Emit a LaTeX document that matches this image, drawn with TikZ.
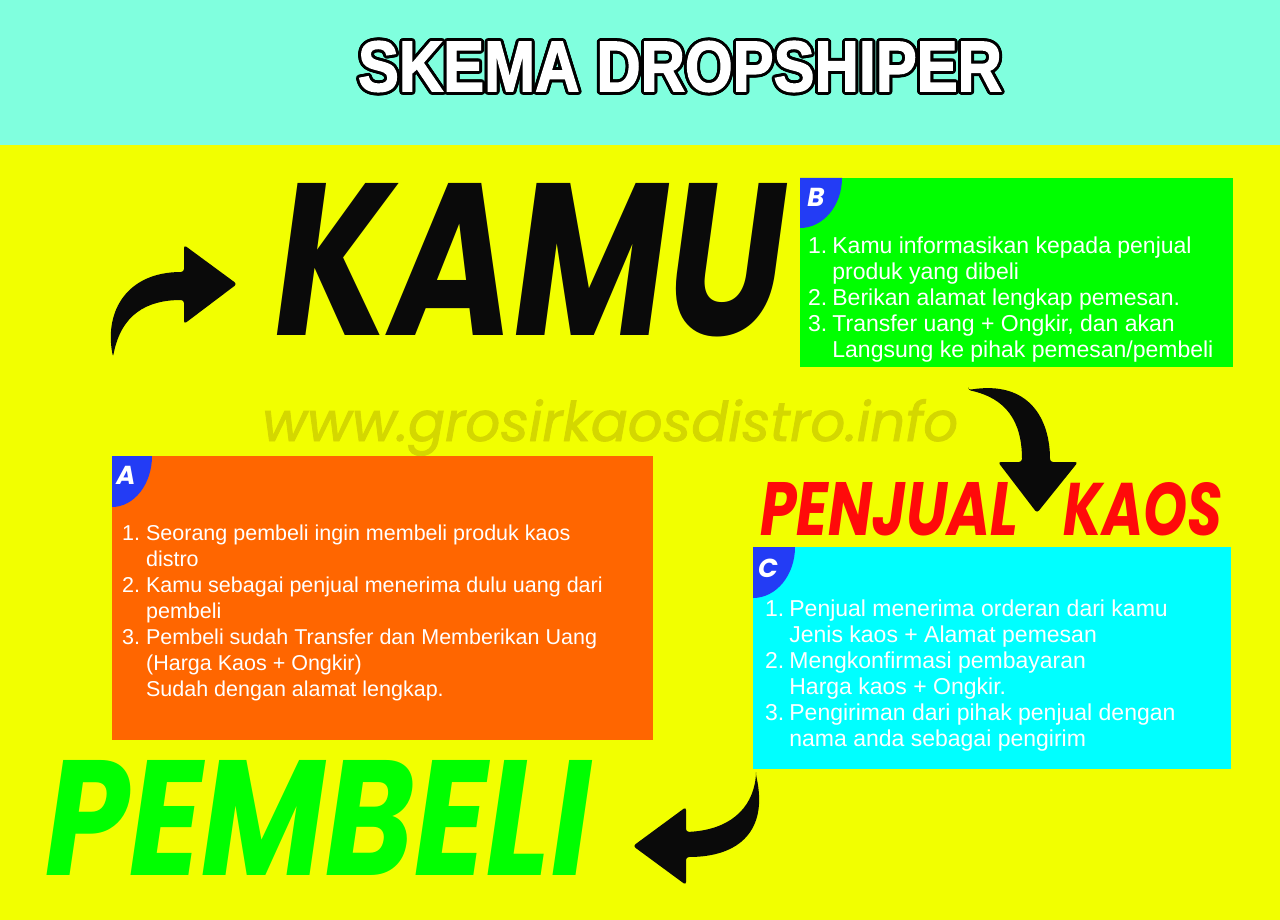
\documentclass[tikz,border=0pt]{standalone}
\usepackage{fontspec}
\setmainfont{Liberation Sans}
\newfontfamily\brushfont{Poppins}
\usepackage{contour}
\contourlength{3pt}
\usepackage{tikz}
\usetikzlibrary{calc,positioning}
\definecolor{bandcol}{RGB}{128,255,222}
\definecolor{yellowbg}{RGB}{242,255,0}
\definecolor{greenbox}{RGB}{0,255,0}
\definecolor{orangebox}{RGB}{255,102,0}
\definecolor{cyanbox}{RGB}{0,255,255}
\definecolor{badgeblue}{RGB}{35,60,245}
\definecolor{redword}{RGB}{255,10,10}
\definecolor{wmcol}{RGB}{212,215,0}
\definecolor{arrowblack}{RGB}{10,10,10}

\begin{document}
\begin{tikzpicture}[x=1pt,y=-1pt,
  infobox/.style={anchor=north west,inner sep=0,minimum width=#1},
  listtext/.style={anchor=north west,inner sep=0,text=white,font=\fontsize{#1}{26}\selectfont},
  bigword/.style={anchor=north west,inner sep=0,font=\brushfont\bfseries\itshape},
  badge/.style={fill=badgeblue},
  badgeletter/.style={inner sep=0,text=white,font=\brushfont\bfseries\itshape\fontsize{26}{26}\selectfont},
  arrowfill/.style={fill=arrowblack,rounded corners=3pt}]
\useasboundingbox (0,0) rectangle (1280,920);
\fill[yellowbg] (0,0) rectangle (1280,920);
\fill[bandcol] (0,0) rectangle (1280,145);

\node[inner sep=0,font=\bfseries\addfontfeature{FakeBold=2}] (title) at (680,68) {\color{white}\contour{black}{\resizebox{644pt}{50pt}{SKEMA DROPSHIPER}}};

\node[anchor=base west,inner sep=0,text=wmcol,font=\brushfont\itshape\addfontfeature{FakeBold=1.5}] (www) at (262,441) {\resizebox{696pt}{!}{www.grosirkaosdistro.info}};

\node[bigword,text=arrowblack] (kamu) at (275,183) {\resizebox{510pt}{152pt}{KAMU}};
\node[bigword,text=redword] (penjual) at (760,482) {\resizebox{258pt}{53pt}{PENJUAL}};
\node[bigword,text=redword] (kaos) at (1063,482) {\resizebox{159pt}{53pt}{KAOS}};
\node[bigword,text=greenbox] (pembeli) at (45,760) {\resizebox{545pt}{115pt}{PEMBELI}};

% kotak B
\node[infobox=433pt,minimum height=189pt,fill=greenbox] (boxB) at (800,178) {};
\fill[badge] (boxB.north west) -- ++(42,0) arc[start angle=0,end angle=90,x radius=42,y radius=50] -- cycle;
\node[badgeletter] (letB) at ([shift={(16,19)}]boxB.north west) {B};
\node[listtext=23] (listB) at ([shift={(8,57)}]boxB.north west) {\begin{tabular}{@{}l@{\hspace{5pt}}l@{}}
1. & Kamu informasikan kepada penjual\\
   & produk yang dibeli\\
2. & Berikan alamat lengkap pemesan.\\
3. & Transfer uang + Ongkir, dan akan\\
   & Langsung ke pihak pemesan/pembeli
\end{tabular}};

% kotak A
\node[infobox=541pt,minimum height=284pt,fill=orangebox] (boxA) at (112,456) {};
\fill[badge] (boxA.north west) -- ++(40,0) arc[start angle=0,end angle=90,x radius=40,y radius=51] -- cycle;
\node[badgeletter] (letA) at ([shift={(14,19)}]boxA.north west) {A};
\node[listtext=21.5] (listA) at ([shift={(10,66)}]boxA.north west) {\begin{tabular}{@{}l@{\hspace{6pt}}l@{}}
1. & Seorang pembeli ingin membeli produk kaos\\
   & distro\\
2. & Kamu sebagai penjual menerima dulu uang dari\\
   & pembeli\\
3. & Pembeli sudah Transfer dan Memberikan Uang\\
   & (Harga Kaos + Ongkir)\\
   & Sudah dengan alamat lengkap.
\end{tabular}};

% kotak C
\node[infobox=478pt,minimum height=222pt,fill=cyanbox] (boxC) at (753,547) {};
\fill[badge] (boxC.north west) -- ++(42,0) arc[start angle=0,end angle=90,x radius=42,y radius=51] -- cycle;
\node[badgeletter] (letC) at ([shift={(15,21)}]boxC.north west) {C};
\node[listtext=23] (listC) at ([shift={(12,51)}]boxC.north west) {\begin{tabular}{@{}l@{\hspace{5pt}}l@{}}
1. & Penjual menerima orderan dari kamu\\
   & Jenis kaos + Alamat pemesan\\
2. & Mengkonfirmasi pembayaran\\
   & Harga kaos + Ongkir.\\
3. & Pengiriman dari pihak penjual dengan\\
   & nama anda sebagai pengirim
\end{tabular}};

% panah
\fill[arrowfill] (113,357) .. controls (104,310) and (128,272) .. (184,272) -- (184,245) -- (237,284) -- (184,324) -- (184,300) .. controls (146,300) and (121,315) .. (113,357) -- cycle;
\fill[arrowfill] (968,390) .. controls (1030,380) and (1050,420) .. (1050,462) -- (1078,462) -- (1037,513) -- (998,462) -- (1022,462) .. controls (1022,420) and (1005,398) .. (968,390) -- cycle;
\fill[arrowfill] (756,775) .. controls (768,830) and (740,857) .. (686,857) -- (686,885) -- (633,846) -- (686,807) -- (686,832) .. controls (728,830) and (752,810) .. (756,775) -- cycle;
\end{tikzpicture}
\end{document}
